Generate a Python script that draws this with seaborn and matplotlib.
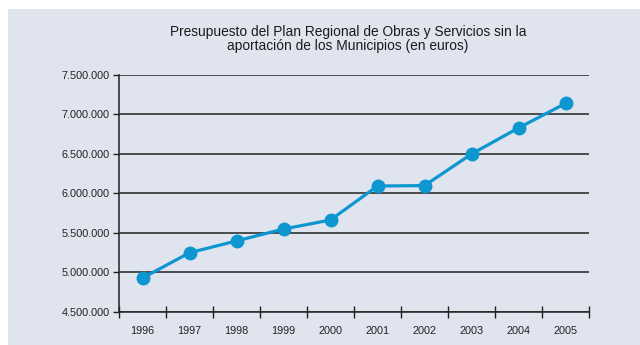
import matplotlib
matplotlib.use("Agg")
import matplotlib.pyplot as plt
from matplotlib.patches import Rectangle
from matplotlib.ticker import FuncFormatter, FixedLocator
import seaborn as sns
import pandas as pd

years = ["1996", "1997", "1998", "1999", "2000", "2001", "2002", "2003", "2004", "2005"]
budget = [4930000, 5250000, 5400000, 5550000, 5665000, 6095000, 6100000, 6500000, 6830000, 7140000]
y_ticks = [4500000, 5000000, 5500000, 6000000, 6500000, 7000000, 7500000]

title = "Presupuesto del Plan Regional de Obras y Servicios sin la\naportación de los Municipios (en euros)"

sns.set_style("white")
plt.rcParams["font.family"] = ["Liberation Sans", "DejaVu Sans"]

W, H = 640, 345
fig = plt.figure(figsize=(W / 100, H / 100), dpi=100)
fig.patch.set_facecolor("white")

# Light panel behind the chart
panel = Rectangle((8 / W, 0), 1 - 8 / W, (H - 9) / H,
                  transform=fig.transFigure, facecolor="#e0e4ee",
                  edgecolor="none", zorder=-10)
fig.patches.append(panel)

ax = fig.add_axes([119 / W, (H - 312) / H, (589 - 119) / W, (312 - 75) / H])
ax.set_facecolor("none")
ax.set_zorder(1)

df = pd.DataFrame({"pos": range(len(years)), "value": budget})

# Horizontal grid lines at every y tick
for v in y_ticks:
    ax.axhline(v, color="#222222", lw=1.1, zorder=1)

sns.lineplot(data=df, x="pos", y="value", ax=ax, color="#0d96d0", lw=2.3,
             marker="o", markersize=10, markeredgewidth=0, zorder=3)

ax.set_xlim(-0.5, len(years) - 0.5)
ax.set_ylim(y_ticks[0], y_ticks[-1])
ax.set_xlabel("")
ax.set_ylabel("")

ax.set_yticks(y_ticks)
ax.yaxis.set_major_formatter(FuncFormatter(lambda v, p: f"{int(v):,}".replace(",", ".")))
ax.tick_params(axis="y", left=True, direction="out", length=4.5, width=1, color="#222222",
               labelsize=7.8, pad=2, labelcolor="#222222")

# Category boundaries as ticks, labels centred in each category
ax.xaxis.set_major_locator(FixedLocator([i - 0.5 for i in range(len(years) + 1)]))
ax.xaxis.set_major_formatter(FuncFormatter(lambda v, p: ""))
ax.xaxis.set_minor_locator(FixedLocator(list(range(len(years)))))
ax.set_xticklabels(years, minor=True)
ax.tick_params(axis="x", which="major", bottom=True, direction="inout", length=8, width=1,
               color="#222222")
ax.tick_params(axis="x", which="minor", bottom=True, length=0, labelsize=7.8, pad=10,
               labelcolor="#222222")

for s in ["top", "right"]:
    ax.spines[s].set_visible(False)
for s in ["left", "bottom"]:
    ax.spines[s].set_color("#222222")
    ax.spines[s].set_linewidth(1.1)

fig.text(348 / W, 1 - 39 / H, title, ha="center", va="center", fontsize=9.9,
         color="#1a1a1a", linespacing=1.05)

fig.savefig("out.png", dpi=100)
